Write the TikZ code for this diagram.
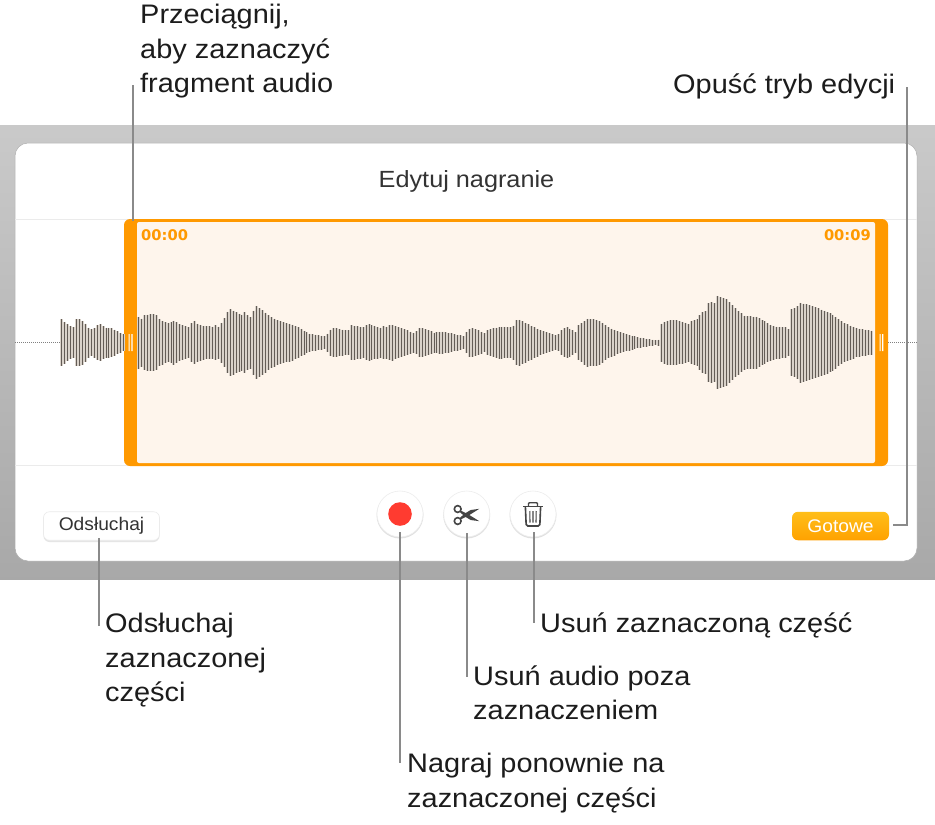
\documentclass[tikz,border=0pt]{standalone}
\usepackage{fontspec}
\setmainfont{Liberation Sans}
\newfontfamily\wideface[FakeStretch=1.08]{Liberation Sans}
\newfontfamily\btnface[FakeStretch=1.05]{Liberation Sans}
\newfontfamily\timeface{DejaVu Sans}
\definecolor{orng}{HTML}{FF9900}
\definecolor{tint}{HTML}{FEF5EC}
\definecolor{lead}{HTML}{8A8A8A}
\definecolor{inktxt}{HTML}{1C1C1C}
\definecolor{ico}{HTML}{454545}
\definecolor{barlight}{HTML}{D9D2CA}
\definecolor{bardark}{HTML}{635C56}
\definecolor{recred}{HTML}{FF3B30}
\newcommand\firstrow{\rule{0pt}{24pt}}
\tikzset{
  callout/.style={draw=lead,line width=2.4pt},
  lab/.style={inner sep=0pt,anchor=north west,align=left,text=inktxt,font=\wideface\fontsize{26.8}{34.7}\selectfont},
  time/.style={inner sep=0pt,text=orng,font=\timeface\bfseries\fontsize{14.7}{16}\selectfont},
  roundbtn/.style={circle,fill=white,draw=black!7,line width=.6pt,minimum size=46pt,inner sep=0pt},
  rectbtn/.style={rounded corners=6pt,minimum width=116pt,minimum height=28.5pt,inner sep=0pt,fill=white,draw=black!8,line width=.6pt,text=inktxt!90,font=\btnface\fontsize{18.3}{20}\selectfont},
  donebtn/.style={rounded corners=6pt,minimum width=97pt,minimum height=28.5pt,inner sep=0pt,top color=orng!70!yellow!90!white,bottom color=orng!92!yellow,text=white,font=\btnface\fontsize{18.3}{20}\selectfont},
  dots/.style={draw=black!50,line width=1pt,dash pattern=on 1pt off 1pt},
}
% one pass of waveform bars: #1 pen, #2 offset of the crop, #3 x/halfheight pairs in crop units
\newcommand\wavebars[3]{%
  \foreach \zx/\zh [remember=\zx as \lx (initially 0),remember=\zh as \lh (initially 0),count=\ci] in {#3}{%
    \ifnum\ci>1
      \pgfmathsetmacro\xa{#2+\lx/3}\pgfmathsetmacro\xb{#2+\zx/3}%
      \pgfmathtruncatemacro\ka{ceil((\xa-61.7)/2.955)}%
      \pgfmathtruncatemacro\kb{ceil((\xb-61.7)/2.955)-1}%
      \ifnum\ka>\kb\else
        \foreach \k in {\ka,...,\kb}{%
          \pgfmathsetmacro\bx{floor(61.7+2.955*\k)+0.5}%
          \pgfmathsetmacro\bh{(\lh+(\zh-\lh)*(\bx-\xa)/(\xb-\xa))/3}%
          \draw[#1] (\bx,342.7-\bh) -- (\bx,342.7+\bh);
        }%
      \fi
    \fi
  }%
}
\newcommand\wavefull[1]{%
  \wavebars{#1}{0}{185/70,194/62,203/56,212/50,220/46,229/70,238/70,247/66,256/58,265/46,274/40,287/46,296/56,305/54,314/46,332/44,350/36,368/26,375/24}%
  \wavebars{#1}{0}{412/80,424/72,433/82,450/86,468/84,477/72,494/62,511/58,520/66,538/56,565/46,573/46,576/72,594/56,612/50,638/48,647/52,656/48,672/70,679/86,688/102,706/94,724/84,733/92,750/76,757/84,765/112,792/94,810/78,846/62,873/56,900/44,926/28,960/22}%
  \wavebars{#1}{320}{0/22,18/18,27/36,36/42,45/44,85/36,94/52,130/46,144/56,185/44,194/52,203/46,212/56,225/50,250/42,285/28,297/44,306/44,345/30,365/34,430/20,435/18,442/40,460/44,495/28,503/38,540/48,578/46,587/66,596/70,640/48,665/36,712/20,722/36,740/48,768/30,775/52,790/62,800/72,835/68,870/44,900/32,950/17}%
  \wavebars{#1}{630}{20/17,85/6,92/56,110/66,140/68,178/56,185/66,203/70,212/90,230/96,237/124,255/118,263/140,290/130,315/104,345/80,380/78,420/54,440/48,470/46,477/38,484/100,500/106,510/120,535/114,600/90,640/60,680/44,728/36}%
}
\begin{document}
\begin{tikzpicture}[x=1pt,y=-1pt]
\useasboundingbox (0,0) rectangle (935,825);
% window backdrop
\shade[top color=black!21,bottom color=black!34] (0,125) rectangle (935,579);
\fill[white,draw=black!32,line width=.5pt,rounded corners=13pt] (15,143) rectangle (917,561);
\node[inner sep=0pt,text=black!80,font=\wideface\fontsize{23.4}{26}\selectfont] (title) at (466.5,181.5) {Edytuj nagranie};
\draw[black!8,line width=1pt] (15,219.5) -- (917,219.5) (15,465.5) -- (917,465.5);
% dotted baseline
\draw[dots] (15,342.7) -- (60,342.7) (888,342.7) -- (917,342.7);
% selection frame
\fill[orng,rounded corners=6pt] (124,219) rectangle (888,466);
\fill[tint,rounded corners=2pt] (137,222) rectangle (875,463);
\fill[white] (128.5,334) rectangle (129.7,351) (131.3,334) rectangle (132.6,351)
             (879.5,334) rectangle (880.7,351) (882.2,334) rectangle (883.4,351);
\node[time,anchor=west] (tstart) at (141,235.5) {00:00};
\node[time,anchor=east] (tend) at (871,235.5) {00:09};
% waveform
\wavefull{line width=3pt,draw=barlight}
\wavefull{line width=1.1pt,draw=bardark}
% buttons
\fill[black!10,rounded corners=6pt] (43.5,513.5) rectangle (159.5,542);
\node[rectbtn] (play) at (101.5,526) {Odsłuchaj};
\node[donebtn] (done) at (840.5,526) {Gotowe};
\fill[black!12] (400,515) circle (23.5);
\fill[black!12] (466.7,515) circle (23.5);
\fill[black!12] (533,515) circle (23.5);
\node[roundbtn] (rec) at (400,514) {};
\node[roundbtn] (cut) at (466.7,514) {};
\node[roundbtn] (del) at (533,514) {};
\fill[recred] (rec.center) circle (11.8);
% scissors icon
\begin{scope}[shift={(cut.center)}]
  \draw[ico,line width=1.6pt] (-9,-5) circle (3.4) (-9,7) circle (3.4);
  \fill[ico] (-6,-3.5) -- (2,0.6) -- (12.6,7.2) -- (4,6) -- (-1,3) -- (-6.5,-1.5) -- cycle;
  \fill[ico] (-6,5.5) -- (2,1.4) -- (12.6,-5.2) -- (4,-4) -- (-1,-1) -- (-6.5,3.5) -- cycle;
\end{scope}
% trash icon
\begin{scope}[shift={(del.center)}]
  \draw[ico,line width=1.6pt,rounded corners=1.5pt] (-7.6,-7) -- (-6.8,12) -- (6.8,12) -- (7.6,-7);
  \draw[ico,line width=1.7pt] (-10,-7.4) -- (10,-7.4);
  \draw[ico,line width=1.4pt,rounded corners=1pt] (-4.5,-8) -- (-4.5,-11.3) -- (4.5,-11.3) -- (4.5,-8);
  \draw[ico,line width=1.1pt] (-3.2,-3) -- (-3,8.5) (0,-3) -- (0,8.5) (3.2,-3) -- (3,8.5);
\end{scope}
% labels
\node[lab] (lDrag) at (140,-0.7) {\firstrow Przeciągnij,\\aby zaznaczyć\\fragment audio};
\node[lab] (lExit) at (673,69.3) {\firstrow Opuść tryb edycji};
\node[lab] (lPlay) at (105,608.3) {\firstrow Odsłuchaj\\zaznaczonej\\części};
\node[lab] (lDel) at (540,608.3) {\firstrow Usuń zaznaczoną część};
\node[lab] (lCut) at (473,661) {\firstrow Usuń audio poza\\zaznaczeniem};
\node[lab] (lRec) at (407,748.7) {\firstrow Nagraj ponownie na\\zaznaczonej części};
% connectors
\coordinate (dragTop) at (133,85);
\coordinate (dragEnd) at (133,221);
\coordinate (exitTop) at (907,87);
\coordinate (exitBend) at (907,525);
\coordinate (playEnd) at (99,626);
\coordinate (recEnd) at (400,763);
\coordinate (cutEnd) at (467,677);
\coordinate (delEnd) at (534,623);
\draw[callout] (dragTop) -- (dragEnd);
\draw[callout] (exitTop) -- (exitBend) -- ([xshift=4pt]done.east |- exitBend);
\draw[callout] (playEnd) -- ([yshift=3pt]playEnd |- play.south);
\draw[callout] ([yshift=5pt]recEnd |- rec.south) -- (recEnd);
\draw[callout] ([yshift=4pt]cutEnd |- cut.south) -- (cutEnd);
\draw[callout] ([yshift=5pt]delEnd |- del.south) -- (delEnd);
\end{tikzpicture}
\end{document}
